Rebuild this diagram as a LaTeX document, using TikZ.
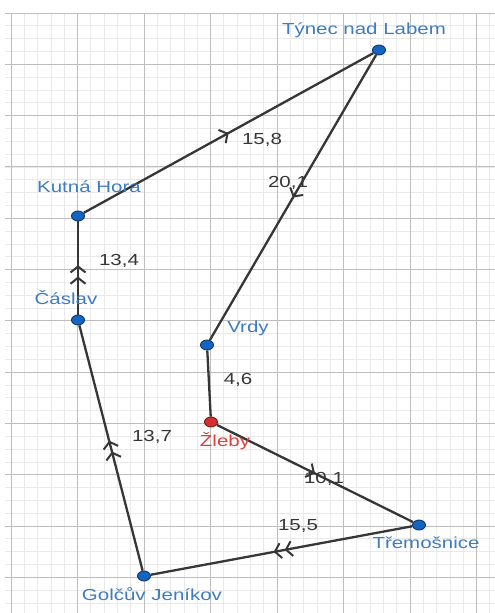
\documentclass[tikz,border=0pt]{standalone}
\usepackage{fontspec}
\setmainfont{Liberation Sans}
\usetikzlibrary{arrows.meta, decorations.markings}
\definecolor{dotblue}{HTML}{1565C0}
\definecolor{dotred}{HTML}{D32F2F}
\definecolor{nameblue}{HTML}{3E7CBF}
\definecolor{namered}{HTML}{D9413C}
\definecolor{roadgray}{HTML}{363636}
\definecolor{minorgrid}{HTML}{E9E9E9}
\definecolor{majorgrid}{HTML}{BDBDBD}

\begin{document}
\begin{tikzpicture}[x=1pt, y=-1pt,
  town/.style={circle, draw=dotblue!55!black, fill=dotblue, line width=0.9pt, inner sep=0pt, minimum size=10pt, xscale=1.3},
  startdot/.style={town, draw=dotred!55!black, fill=dotred},
  townname/.style={text=nameblue, anchor=mid, inner sep=0pt, xscale=1.28, font=\fontsize{16}{19}\selectfont},
  dist/.style={text=roadgray, anchor=mid, inner sep=0pt, xscale=1.28, font=\fontsize{16}{19}\selectfont},
  road/.style={draw=roadgray, line width=2.3pt},
  one tip/.style={postaction={decorate}, decoration={markings, mark=at position 0.5 with {\arrow{Straight Barb[length=6pt,width=15pt,line width=2pt]}}}},
  two tips/.style={postaction={decorate}, decoration={markings, mark=at position 0.53 with {\arrow{Straight Barb[length=6pt,width=15pt,line width=2pt,sep=3pt] Straight Barb[length=6pt,width=15pt,line width=2pt]}}}}
]
\useasboundingbox[fill=white] (0,0) rectangle (495,613);

\foreach \k in {0,...,36}
  \draw[minorgrid, line width=0.7pt] ({11+13.3*\k},13) -- ({11+13.3*\k},613);
\foreach \k in {0,...,46}
  \draw[minorgrid, line width=0.7pt] (5,{13+12.825*\k}) -- (495,{13+12.825*\k});
\foreach \k in {0,...,7}
  \draw[majorgrid, line width=1pt] ({11+66.5*\k},13) -- ({11+66.5*\k},613);
\foreach \k in {0,...,11}
  \draw[majorgrid, line width=1pt] (5,{13+51.3*\k}) -- (495,{13+51.3*\k});

\node[town] (tynec) at (379,50) {};
\node[town] (kutna) at (78,216) {};
\node[town] (caslav) at (78,320) {};
\node[town] (vrdy) at (207,345) {};
\node[startdot] (zleby) at (211,422) {};
\node[town] (tremosnice) at (419,525) {};
\node[town] (golcuv) at (144,576) {};

\draw[road, one tip] (kutna) -- (tynec);
\draw[road, one tip] (tynec) -- (vrdy);
\draw[road] (vrdy) -- (zleby);
\draw[road, one tip] (zleby) -- (tremosnice);
\draw[road, two tips] (tremosnice) -- (golcuv);
\draw[road, two tips] (golcuv) -- (caslav);
\draw[road, two tips] (caslav) -- (kutna);

\node[townname] (tynecname) at (364,32) {Týnec nad Labem};
\node[townname] (kutnaname) at (89,190) {Kutná Hora};
\node[townname] (caslavname) at (66,302) {Čáslav};
\node[townname] (vrdyname) at (248,330) {Vrdy};
\node[townname, text=namered] (zlebyname) at (225,444) {Žleby};
\node[townname] (tremosnicename) at (426,546) {Třemošnice};
\node[townname] (golcuvname) at (152,598) {Golčův Jeníkov};

\node[dist] (d158) at (262,142) {15,8};
\node[dist] (d201) at (288,185) {20,1};
\node[dist] (d134) at (119,263) {13,4};
\node[dist] (d46) at (238,382) {4,6};
\node[dist] (d137) at (152,439) {13,7};
\node[dist] (d101) at (324,481) {10,1};
\node[dist] (d155) at (298,528) {15,5};
\end{tikzpicture}
\end{document}
